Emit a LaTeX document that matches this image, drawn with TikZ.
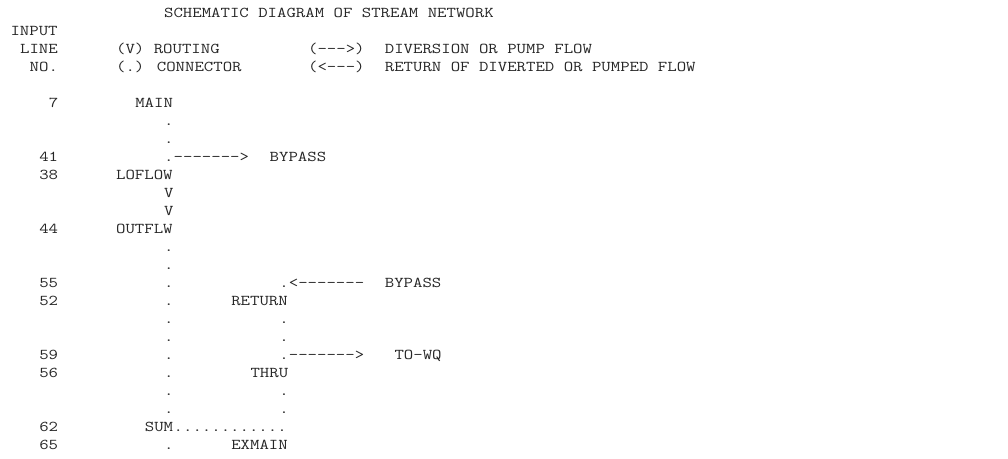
\documentclass[tikz,border=0pt]{standalone}
\newcommand\hy{-\kern0pt}
\newcommand\tx[4]{\node[txt] (#1) at ({10.5+9.6*#2},{17.5+18*#3}) {\scalebox{1.219}[1]{#4}};}
\begin{document}
\begin{tikzpicture}[x=1pt,y=-1pt,
  txt/.style={anchor=base west,inner sep=0pt,outer sep=0pt,text=black!85,
    font=\fontsize{15}{18}\selectfont\ttfamily}]
\useasboundingbox[fill=white] (0,0) rectangle (1008,458);
% header
\tx{title}{16}{0}{SCHEMATIC DIAGRAM OF STREAM NETWORK}
\tx{hinput}{0}{1}{INPUT}
\tx{hline}{1}{2}{LINE}
\tx{legv}{11}{2}{(V) ROUTING}
\tx{legdivsym}{31}{2}{(\hy\hy\hy>)}
\tx{legdiv}{39}{2}{DIVERSION OR PUMP FLOW}
\tx{hno}{2}{3}{NO.}
\tx{legdot}{11}{3}{(.) CONNECTOR}
\tx{legretsym}{31}{3}{(<\hy\hy\hy)}
\tx{legret}{39}{3}{RETURN OF DIVERTED OR PUMPED FLOW}
% network
\tx{n7}{4}{5}{7}
\tx{main}{13}{5}{MAIN}
\tx{c6}{16}{6}{.}
\tx{c7}{16}{7}{.}
\tx{n41}{3}{8}{41}
\tx{c8}{16}{8}{.}
\tx{a8}{17}{8}{\hy\hy\hy\hy\hy\hy\hy>}
\tx{bypass1}{27}{8}{BYPASS}
\tx{n38}{3}{9}{38}
\tx{loflow}{11}{9}{LOFLOW}
\tx{v10}{16}{10}{V}
\tx{v11}{16}{11}{V}
\tx{n44}{3}{12}{44}
\tx{outflw}{11}{12}{OUTFLW}
\tx{c13}{16}{13}{.}
\tx{c14}{16}{14}{.}
\tx{n55}{3}{15}{55}
\tx{c15}{16}{15}{.}
\tx{e15}{28}{15}{.}
\tx{a15}{29}{15}{<\hy\hy\hy\hy\hy\hy\hy}
\tx{bypass2}{39}{15}{BYPASS}
\tx{n52}{3}{16}{52}
\tx{c16}{16}{16}{.}
\tx{return}{23}{16}{RETURN}
\tx{c17}{16}{17}{.}
\tx{e17}{28}{17}{.}
\tx{c18}{16}{18}{.}
\tx{e18}{28}{18}{.}
\tx{n59}{3}{19}{59}
\tx{c19}{16}{19}{.}
\tx{e19}{28}{19}{.}
\tx{a19}{29}{19}{\hy\hy\hy\hy\hy\hy\hy>}
\tx{towq}{40}{19}{TO\hy WQ}
\tx{n56}{3}{20}{56}
\tx{c20}{16}{20}{.}
\tx{thru}{25}{20}{THRU}
\tx{c21}{16}{21}{.}
\tx{e21}{28}{21}{.}
\tx{c22}{16}{22}{.}
\tx{e22}{28}{22}{.}
\tx{n62}{3}{23}{62}
\tx{sum}{14}{23}{SUM}
\tx{sumdots}{17}{23}{............}
\tx{n65}{3}{24}{65}
\tx{c24}{16}{24}{.}
\tx{exmain}{23}{24}{EXMAIN}
\end{tikzpicture}
\end{document}
